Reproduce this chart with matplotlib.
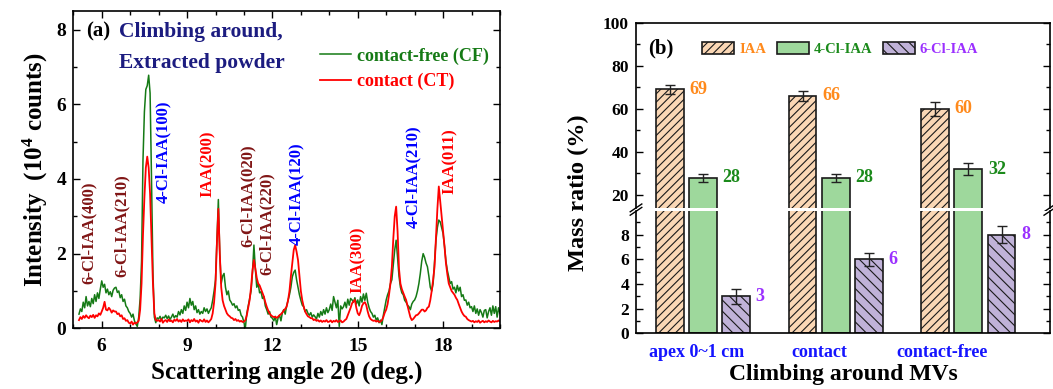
import numpy as np
import matplotlib
matplotlib.use("Agg")
import matplotlib.pyplot as plt
from matplotlib.ticker import MultipleLocator

plt.rcParams['font.family'] = ['Liberation Serif', 'DejaVu Serif']
plt.rcParams['font.weight'] = 'bold'
plt.rcParams['axes.labelweight'] = 'bold'
plt.rcParams['mathtext.fontset'] = 'custom'
plt.rcParams['mathtext.rm'] = 'Liberation Serif:bold'
plt.rcParams['mathtext.bf'] = 'Liberation Serif:bold'
plt.rcParams['mathtext.it'] = 'Liberation Serif:bold:italic'
plt.rcParams['hatch.linewidth'] = 0.8

# ---------------- XRD patterns (panel a) ----------------
two_theta = np.round(np.arange(5.20, 20.001, 0.05), 2)

intensity_cf = [
    # 5.20 - 5.95
    0.38, 0.52, 0.45, 0.70, 0.55, 0.85, 0.60, 0.72, 0.58, 0.80, 0.66, 0.90, 0.72, 0.95, 0.80, 1.05,
    # 6.00 - 6.95
    1.27, 1.10, 1.18, 0.95, 1.05, 0.90, 0.98, 0.85, 1.02, 1.08, 1.10, 0.96, 1.00, 0.82, 0.90, 0.72, 0.78, 0.60, 0.55, 0.45,
    # 7.00 - 7.95
    0.40, 0.30, 0.38, 0.20, 0.12, 0.05, 0.30, 0.80, 1.80, 4.50, 5.80, 6.40, 6.50, 6.78, 6.30, 4.00, 1.50, 0.30, 0.15, 0.28,
    # 8.00 - 8.95
    0.25, 0.32, 0.22, 0.30, 0.28, 0.35, 0.26, 0.33, 0.24, 0.30, 0.38, 0.28, 0.34, 0.30, 0.45, 0.36, 0.50, 0.40, 0.60, 0.48,
    # 9.00 - 9.95
    0.70, 0.55, 0.80, 0.62, 0.72, 0.50, 0.60, 0.42, 0.50, 0.38, 0.45, 0.40, 0.55, 0.45, 0.52, 0.40, 0.48, 0.55, 0.75, 1.00,
    # 10.00 - 10.95
    1.30, 2.40, 3.45, 2.00, 1.20, 1.40, 1.47, 1.10, 0.90, 1.00, 0.76, 0.70, 0.62, 0.66, 0.55, 0.60, 0.48, 0.50, 0.35, 0.30,
    # 11.00 - 11.95
    0.15, 0.02, 0.40, 0.60, 0.80, 1.00, 1.50, 2.23, 1.60, 1.10, 1.20, 0.95, 0.98, 0.80, 0.85, 0.60, 0.50, 0.38, 0.45, 0.30,
    # 12.00 - 12.95
    0.27, 0.20, 0.32, 0.10, 0.28, 0.35, 0.20, 0.42, 0.50, 0.38, 0.60, 0.75, 0.90, 1.10, 1.38, 1.50, 1.56, 1.30, 1.10, 0.90,
    # 13.00 - 13.95
    0.75, 0.62, 0.58, 0.45, 0.50, 0.40, 0.35, 0.42, 0.30, 0.36, 0.31, 0.25, 0.40, 0.30, 0.45, 0.35, 0.50, 0.38, 0.55, 0.42,
    # 14.00 - 14.95
    0.50, 0.65, 0.48, 0.85, 0.70, 0.55, 0.75, 0.05, 0.60, 0.52, 0.58, 0.70, 0.55, 0.78, 0.62, 0.80, 0.76, 0.70, 0.82, 0.65,
    # 15.00 - 15.95
    0.76, 0.60, 0.85, 0.70, 0.92, 0.75, 0.94, 0.70, 0.55, 0.45, 0.40, 0.30, 0.35, 0.22, 0.28, 0.15, 0.22, 0.10, 0.35, 0.55,
    # 16.00 - 16.95
    0.76, 0.90, 1.00, 1.20, 1.30, 1.70, 2.10, 2.36, 1.90, 1.40, 1.10, 0.95, 0.90, 0.75, 0.70, 0.62, 0.58, 0.50, 0.65, 0.72,
    # 17.00 - 17.95
    0.76, 0.85, 1.00, 1.20, 1.47, 1.80, 2.00, 1.90, 1.75, 1.65, 1.40, 1.10, 1.00, 1.20, 1.80, 2.36, 2.70, 2.90, 2.85, 2.70,
    # 18.00 - 18.95
    2.54, 2.20, 1.80, 1.55, 1.38, 1.20, 1.25, 1.05, 1.10, 0.95, 1.15, 1.00, 1.10, 0.85, 0.90, 0.75, 0.76, 0.62, 0.70, 0.55,
    # 19.00 - 19.95
    0.58, 0.45, 0.60, 0.40, 0.52, 0.35, 0.50, 0.42, 0.30, 0.48, 0.50, 0.28, 0.45, 0.55, 0.35, 0.60, 0.40, 0.58, 0.30, 0.55,
    # 20.00
    0.40,
]

intensity_ct = [
    # 5.20 - 5.95
    0.22, 0.30, 0.25, 0.33, 0.28, 0.35, 0.30, 0.27, 0.34, 0.30, 0.36, 0.28, 0.35, 0.32, 0.40, 0.36,
    # 6.00 - 6.95
    0.45, 0.55, 0.71, 0.50, 0.48, 0.55, 0.50, 0.42, 0.48, 0.45, 0.45, 0.38, 0.40, 0.32, 0.35, 0.25, 0.27, 0.20, 0.22, 0.15,
    # 7.00 - 7.95
    0.13, 0.18, 0.10, 0.15, 0.13, 0.16, 0.20, 0.50, 1.20, 2.50, 3.50, 4.30, 4.60, 4.30, 3.60, 2.40, 1.20, 0.40, 0.22, 0.20,
    # 8.00 - 8.95
    0.22, 0.18, 0.25, 0.15, 0.20, 0.22, 0.17, 0.24, 0.19, 0.21, 0.16, 0.23, 0.20, 0.25, 0.18, 0.22, 0.17, 0.24, 0.19, 0.21,
    # 9.00 - 9.95
    0.20, 0.24, 0.16, 0.22, 0.19, 0.25, 0.18, 0.21, 0.15, 0.23, 0.20, 0.18, 0.24, 0.17, 0.21, 0.16, 0.20, 0.25, 0.40, 0.70,
    # 10.00 - 10.95
    1.20, 2.30, 3.20, 2.00, 1.10, 0.75, 0.60, 0.50, 0.40, 0.35, 0.32, 0.28, 0.27, 0.22, 0.25, 0.20, 0.22, 0.18, 0.20, 0.17,
    # 11.00 - 11.95
    0.18, 0.22, 0.35, 0.55, 0.76, 1.10, 1.55, 1.83, 1.60, 1.35, 1.20, 1.15, 1.05, 0.95, 0.85, 0.70, 0.58, 0.48, 0.40, 0.35,
    # 12.00 - 12.95
    0.32, 0.30, 0.31, 0.28, 0.31, 0.35, 0.38, 0.42, 0.48, 0.52, 0.58, 0.75, 1.00, 1.40, 1.74, 2.10, 2.23, 2.05, 1.83, 1.40,
    # 13.00 - 13.95
    1.00, 0.75, 0.58, 0.45, 0.38, 0.32, 0.30, 0.27, 0.27, 0.22, 0.24, 0.20, 0.22, 0.18, 0.21, 0.17, 0.20, 0.18, 0.22, 0.17,
    # 14.00 - 14.95
    0.18, 0.21, 0.16, 0.20, 0.18, 0.22, 0.17, 0.19, 0.21, 0.16, 0.18, 0.22, 0.25, 0.35, 0.45, 0.55, 0.67, 0.72, 0.76, 0.55,
    # 15.00 - 15.95
    0.40, 0.35, 0.45, 0.60, 0.67, 0.70, 0.62, 0.45, 0.32, 0.25, 0.22, 0.20, 0.21, 0.18, 0.20, 0.17, 0.18, 0.22, 0.30, 0.42,
    # 16.00 - 16.95
    0.50, 0.65, 0.90, 1.20, 1.65, 2.40, 3.00, 3.26, 2.60, 1.60, 1.20, 1.05, 0.95, 0.85, 0.76, 0.60, 0.45, 0.30, 0.22, 0.25,
    # 17.00 - 17.95
    0.30, 0.35, 0.36, 0.40, 0.45, 0.50, 0.50, 0.45, 0.48, 0.55, 0.58, 0.75, 1.00, 1.30, 1.65, 2.40, 3.20, 3.80, 3.40, 3.00,
    # 18.00 - 18.95
    2.63, 2.20, 1.75, 1.45, 1.20, 1.10, 1.00, 0.95, 0.90, 0.82, 0.76, 0.65, 0.55, 0.45, 0.38, 0.33, 0.31, 0.25, 0.22, 0.20,
    # 19.00 - 19.95
    0.18, 0.20, 0.16, 0.19, 0.17, 0.21, 0.15, 0.18, 0.20, 0.16, 0.19, 0.17, 0.21, 0.18, 0.16, 0.20, 0.17, 0.19, 0.18, 0.21,
    # 20.00
    0.18,
]

peak_names = ['6-Cl-IAA(400)', '6-Cl-IAA(210)', '4-Cl-IAA(100)', 'IAA(200)',
              '6-Cl-IAA(020)', '6-Cl-IAA(220)', '4-Cl-IAA(120)', 'IAA(300)',
              '4-Cl-IAA(210)', 'IAA(011)']
peak_label_x = [5.56, 6.70, 8.16, 9.74, 11.15, 11.79, 12.82, 15.01, 16.94, 18.23]
peak_label_y = [1.20, 1.38, 3.35, 3.52, 2.19, 1.43, 2.23, 0.94, 2.68, 3.60]
peak_colors = ['#801515', '#801515', '#0000ff', '#ff0000', '#801515',
               '#801515', '#0000ff', '#ff0000', '#0000ff', '#ff0000']

# ---------------- Mass ratios (panel b) ----------------
groups = ['apex 0~1 cm', 'contact', 'contact-free']
species = ['IAA', '4-Cl-IAA', '6-Cl-IAA']
ratio_iaa = [69, 66, 60]
ratio_4cl = [28, 28, 32]
ratio_6cl = [3, 6, 8]
err_iaa = [2.3, 2.5, 3.2]
err_4cl = [1.9, 1.9, 2.8]
err_6cl = [0.6, 0.5, 0.7]

fig = plt.figure(figsize=(10.53, 3.89), dpi=100)

# ======== panel (a) ========
ax = fig.add_axes([0.0696, 0.156, 0.4052, 0.8157])
ax.plot(two_theta, intensity_cf, color='#157a15', lw=1.1, label='contact-free (CF)')
ax.plot(two_theta, intensity_ct, color='#ff0000', lw=1.3, label='contact (CT)')
ax.set_xlim(5, 20)
ax.set_ylim(0, 8.5)
ax.xaxis.set_major_locator(MultipleLocator(3))
ax.xaxis.set_minor_locator(MultipleLocator(1))
ax.yaxis.set_major_locator(MultipleLocator(2))
ax.yaxis.set_minor_locator(MultipleLocator(1))
ax.tick_params(which='both', direction='in', top=True, right=True, width=1.0)
ax.tick_params(which='major', length=5, labelsize=14, pad=5)
ax.tick_params(axis='x', which='major', pad=7)
ax.tick_params(which='minor', length=3)
for lbl in ax.get_xticklabels() + ax.get_yticklabels():
    lbl.set_fontweight('bold')
for s in ax.spines.values():
    s.set_linewidth(1.2)
ax.set_xlabel('Scattering angle 2θ (deg.)', fontsize=18, labelpad=4)
ax.set_ylabel('Intensity  (10$^{4}$ counts)', fontsize=18, labelpad=5)

for name, px, py, c in zip(peak_names, peak_label_x, peak_label_y, peak_colors):
    ax.text(px, py, name, rotation=90, ha='center', va='bottom',
            color=c, fontsize=12, fontweight='bold')

ax.text(0.03, 0.935, '(a)', transform=ax.transAxes, fontsize=15,
        fontweight='bold', va='center', ha='left')
ax.text(0.108, 0.935, 'Climbing around,', transform=ax.transAxes, fontsize=15.5,
        fontweight='bold', color='#1c1c80', va='center', ha='left')
ax.text(0.108, 0.836, 'Extracted powder', transform=ax.transAxes, fontsize=15.5,
        fontweight='bold', color='#1c1c80', va='center', ha='left')
leg = ax.legend(loc='upper right', bbox_to_anchor=(0.975, 0.885), frameon=False,
                fontsize=13, handlelength=1.7, handletextpad=0.35,
                labelspacing=0.45, borderpad=0, borderaxespad=0,
                labelcolor='linecolor')
for t in leg.get_texts():
    t.set_fontweight('bold')

# ======== panel (b): broken y axis ========
ax_hi = fig.add_axes([0.604, 0.4656, 0.393, 0.476])
ax_lo = fig.add_axes([0.604, 0.1432, 0.393, 0.3136])
ax_hi.set_ylim(14, 100)
ax_lo.set_ylim(0, 9.9)

pos = np.arange(len(groups))
offsets = [-0.25, 0.0, 0.25]
bar_w = 0.21
ratios = [ratio_iaa, ratio_4cl, ratio_6cl]
errors = [err_iaa, err_4cl, err_6cl]
faces = ['#fad7b5', '#9ed89c', '#c0b2d8']
hatches = ['////', '', '\\\\\\']
text_colors = ['#ff8a1c', '#1b8a1b', '#9b30ff']

for a in (ax_hi, ax_lo):
    for vals, errs, off, fc, h, name in zip(ratios, errors, offsets, faces, hatches, species):
        a.bar(pos + off, vals, width=bar_w, color=fc, edgecolor='#1a1a1a',
              linewidth=1.2, hatch=h, label=name, zorder=2)
        a.errorbar(pos + off, vals, yerr=errs, fmt='none', ecolor='#222222',
                   elinewidth=1.0, capsize=3.5, capthick=1.0, zorder=3)
    a.set_xlim(-0.505, 2.614)
    a.tick_params(axis='y', which='both', direction='in', right=True, width=1.0)
    a.tick_params(axis='y', which='major', length=5, labelsize=12.5, pad=5)
    a.tick_params(axis='y', which='minor', length=3)
    for lbl in a.get_yticklabels():
        lbl.set_fontweight('bold')
    for s in a.spines.values():
        s.set_linewidth(1.2)

# value labels beside each bar
for vals, off, tc in zip(ratios, offsets, text_colors):
    for p, v in zip(pos, vals):
        a = ax_hi if v >= 14 else ax_lo
        a.annotate(f'{v}', xy=(p + off + bar_w / 2, v), xytext=(4, 0),
                   textcoords='offset points', ha='left', va='center',
                   fontsize=13, fontweight='bold', color=tc)

ax_hi.yaxis.set_major_locator(MultipleLocator(20))
ax_hi.yaxis.set_minor_locator(MultipleLocator(10))
ax_lo.yaxis.set_major_locator(MultipleLocator(2))
ax_lo.yaxis.set_minor_locator(MultipleLocator(1))
ax_hi.spines['bottom'].set_visible(False)
ax_lo.spines['top'].set_visible(False)
ax_hi.tick_params(axis='x', which='both', bottom=False, labelbottom=False)

label_shift = [-0.05, -0.12, -0.2]
ax_lo.set_xticks(pos + np.array(label_shift))
ax_lo.set_xticklabels(groups, fontsize=13, fontweight='bold', color='#1414ff')
ax_lo.tick_params(axis='x', length=0, pad=8)
ax_lo.set_xlabel('Climbing around MVs', fontsize=17, labelpad=2)

# break marks on both vertical spines
for xa in (0.0, 1.0):
    ax_hi.plot([xa - 0.014, xa + 0.014], [-0.021, 0.021],
               transform=ax_hi.transAxes, color='black', lw=1.0, clip_on=False)
    ax_lo.plot([xa - 0.014, xa + 0.014], [0.968, 1.032],
               transform=ax_lo.transAxes, color='black', lw=1.0, clip_on=False)

ax_hi.text(0.03, 0.86, '(b)', transform=ax_hi.transAxes, fontsize=15,
           fontweight='bold', va='center', ha='left')
handles, labels = ax_hi.get_legend_handles_labels()
leg2 = ax_hi.legend(handles[:3], labels[:3], ncol=3, loc='center left',
                    bbox_to_anchor=(0.16, 0.86), frameon=False, fontsize=10.5,
                    handlelength=2.2, handleheight=0.9, handletextpad=0.35,
                    columnspacing=0.7, borderpad=0, borderaxespad=0)
for t, c in zip(leg2.get_texts(), text_colors):
    t.set_color(c)
    t.set_fontweight('bold')

fig.text(0.549, 0.504, 'Mass ratio (%)', rotation=90, fontsize=17.5,
         fontweight='bold', ha='center', va='center')

fig.savefig('out.png', dpi=100)
